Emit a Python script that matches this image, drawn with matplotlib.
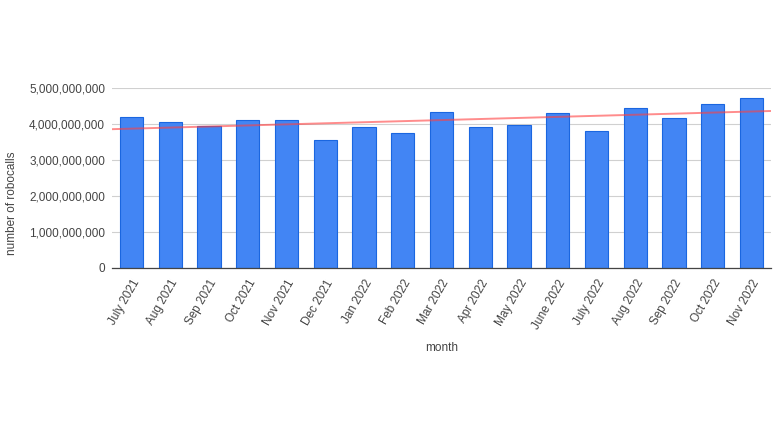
import numpy as np
import matplotlib.pyplot as plt
from matplotlib.ticker import FuncFormatter

plt.rcParams['font.family'] = ['Liberation Sans', 'DejaVu Sans']

months = ['July 2021', 'Aug 2021', 'Sep 2021', 'Oct 2021', 'Nov 2021', 'Dec 2021',
          'Jan 2022', 'Feb 2022', 'Mar 2022', 'Apr 2022', 'May 2022', 'June 2022',
          'July 2022', 'Aug 2022', 'Sep 2022', 'Oct 2022', 'Nov 2022']
robocalls = [4.19e9, 4.05e9, 3.95e9, 4.11e9, 4.11e9, 3.55e9,
             3.91e9, 3.75e9, 4.33e9, 3.92e9, 3.98e9, 4.31e9,
             3.80e9, 4.44e9, 4.17e9, 4.56e9, 4.72e9]

fig = plt.figure(figsize=(7.77, 4.37), dpi=100)
ax = fig.add_axes([112 / 777, 1 - 268 / 437, 659 / 777, 180 / 437])

x = np.arange(len(months))
ax.bar(x, robocalls, width=0.6, color='#4285f4', edgecolor='#1a66e0', linewidth=0.8, zorder=2)

# linear trendline across the whole plot width
slope, icpt = np.polyfit(x, robocalls, 1)
tx = np.array([-0.5, len(months) - 0.5])
ax.plot(tx, slope * tx + icpt, color='#ff4040', alpha=0.6, linewidth=1.4, zorder=3)

ax.set_xlim(-0.5, len(months) - 0.5)
ax.set_ylim(0, 5e9)
ax.set_yticks(np.arange(0, 5.01e9, 1e9))
ax.yaxis.set_major_formatter(FuncFormatter(lambda v, p: f'{int(v):,}'))
ax.grid(axis='y', color='#d0d0d0', linewidth=0.8, zorder=0)
ax.set_axisbelow(True)

ax.set_xticks(x)
ax.set_xticklabels(months, rotation=60, ha='right', rotation_mode='anchor')
ax.tick_params(axis='both', length=0, labelsize=8.5, labelcolor='#444444')
ax.tick_params(axis='y', pad=5)
ax.tick_params(axis='x', pad=7)

for s in ['top', 'right', 'left']:
    ax.spines[s].set_visible(False)
ax.spines['bottom'].set_color('#444444')
ax.spines['bottom'].set_linewidth(0.9)

ax.set_xlabel('month', fontsize=8.5, color='#444444', labelpad=8)
ax.set_ylabel('number of robocalls', fontsize=8.5, color='#444444')
ax.yaxis.set_label_coords(-0.142, 0.36)

fig.savefig('out.png', dpi=100, facecolor='white')
